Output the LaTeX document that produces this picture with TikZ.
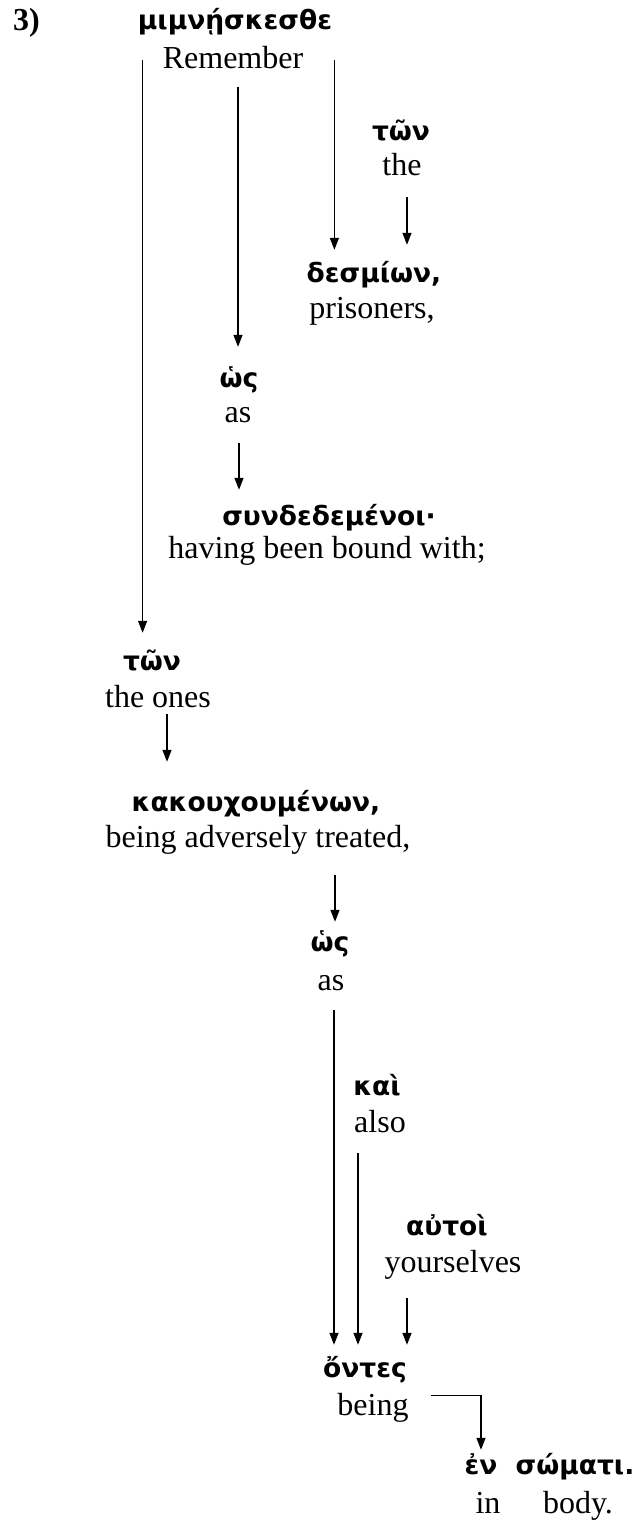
\documentclass[tikz,border=0pt]{standalone}
\usepackage{fontspec}
\setmainfont{Liberation Serif}
\newfontfamily\gkfont{DejaVu Sans}
\usepackage{tikz}
\usetikzlibrary{positioning, calc, arrows.meta}

\begin{document}
\begin{tikzpicture}[x=1pt, y=-1pt,
    gk/.style={font=\gkfont\bfseries\fontsize{26.5}{32}\selectfont, inner sep=0pt, text height=20pt, text depth=6pt, anchor=base},
    gl/.style={font=\fontsize{32}{38}\selectfont, inner sep=0pt, text height=22pt, text depth=7pt, anchor=base},
    arr/.style={line width=1.3pt, -{Triangle[length=12pt, width=9pt]}}]
  \useasboundingbox (0,0) rectangle (643,1528);
  \node[gl, anchor=base west, font=\bfseries\fontsize{32}{38}\selectfont] (num) at (13,31) {3)};
  \node[gk] (mim) at (235,30) {μιμνῄσκεσθε};
  \node[gl] (rem) at (233,68) {Remember};
  \node[gk] (tona) at (401,140) {τῶν};
  \node[gl] (the) at (402,175) {the};
  \node[gk] (desm) at (374,282) {δεσμίων,};
  \node[gl] (pris) at (372,318) {prisoners,};
  \node[gk] (hosa) at (239,387) {ὡς};
  \node[gl] (asa) at (238,422) {as};
  \node[gk] (syn) at (329,525) {συνδεδεμένοι·};
  \node[gl] (bound) at (327,558) {having been bound with;};
  \node[gk] (tonb) at (152,670) {τῶν};
  \node[gl] (ones) at (158,707) {the ones};
  \node[gk] (kak) at (256,811) {κακουχουμένων,};
  \node[gl] (treat) at (258,847) {being adversely treated,};
  \node[gk] (hosb) at (330,951) {ὡς};
  \node[gl] (asb) at (331,990) {as};
  \node[gk] (kai) at (377,1095) {καὶ};
  \node[gl] (also) at (380,1132) {also};
  \node[gk] (aut) at (447,1235) {αὐτοὶ};
  \node[gl] (yours) at (453,1272) {yourselves};
  \node[gk] (ont) at (365,1377) {ὄντες};
  \node[gl] (being) at (373,1415) {being};
  \node[gk] (en) at (481,1474) {ἐν};
  \node[gl] (in) at (488,1513) {in};
  \node[gk] (som) at (575,1474) {σώματι.};
  \node[gl] (body) at (578,1513) {body.};

  \coordinate (ma) at ($(rem.west)+(-20,0)$);
  \coordinate (mb) at ($(rem.east)+(31,0)$);
  \coordinate (mc) at ($(rem.south)+(5,12)$);
  \coordinate (th) at ($(the.south)+(5,15)$);
  \coordinate (as1) at ($(asa.south)+(1,14)$);
  \coordinate (on) at ($(ones.south)+(9,0)$);
  \coordinate (tr) at ($(hosb |- treat.south)+(5,21)$);
  \coordinate (as2) at ($(asb.south)+(3,13)$);
  \coordinate (al) at ($(also.south)+(-22,14)$);
  \coordinate (yo) at ($(yours.south)+(-46,19)$);
  \coordinate (be) at ($(being.east)+(22,-12)$);

  \draw[arr, shorten >=17pt] (ma) -- (ma |- tonb.north);
  \draw[arr, shorten >=12pt] (mb) -- (mb |- desm.north);
  \draw[arr, shorten >=20pt] (mc) -- (mc |- hosa.north);
  \draw[arr, shorten >=17pt] (th) -- (th |- desm.north);
  \draw[arr, shorten >=15pt] (as1) -- (as1 |- syn.north);
  \draw[arr, shorten >=29pt] (on) -- (on |- kak.north);
  \draw[arr, shorten >=9pt] (tr) -- (tr |- hosb.north);
  \draw[arr, shorten >=12pt] (as2) -- (as2 |- ont.north);
  \draw[arr, shorten >=12pt] (al) -- (al |- ont.north);
  \draw[arr, shorten >=12pt] (yo) -- (yo |- ont.north);
  \draw[arr, shorten >=4pt] (be) -| (en.north);
\end{tikzpicture}
\end{document}
